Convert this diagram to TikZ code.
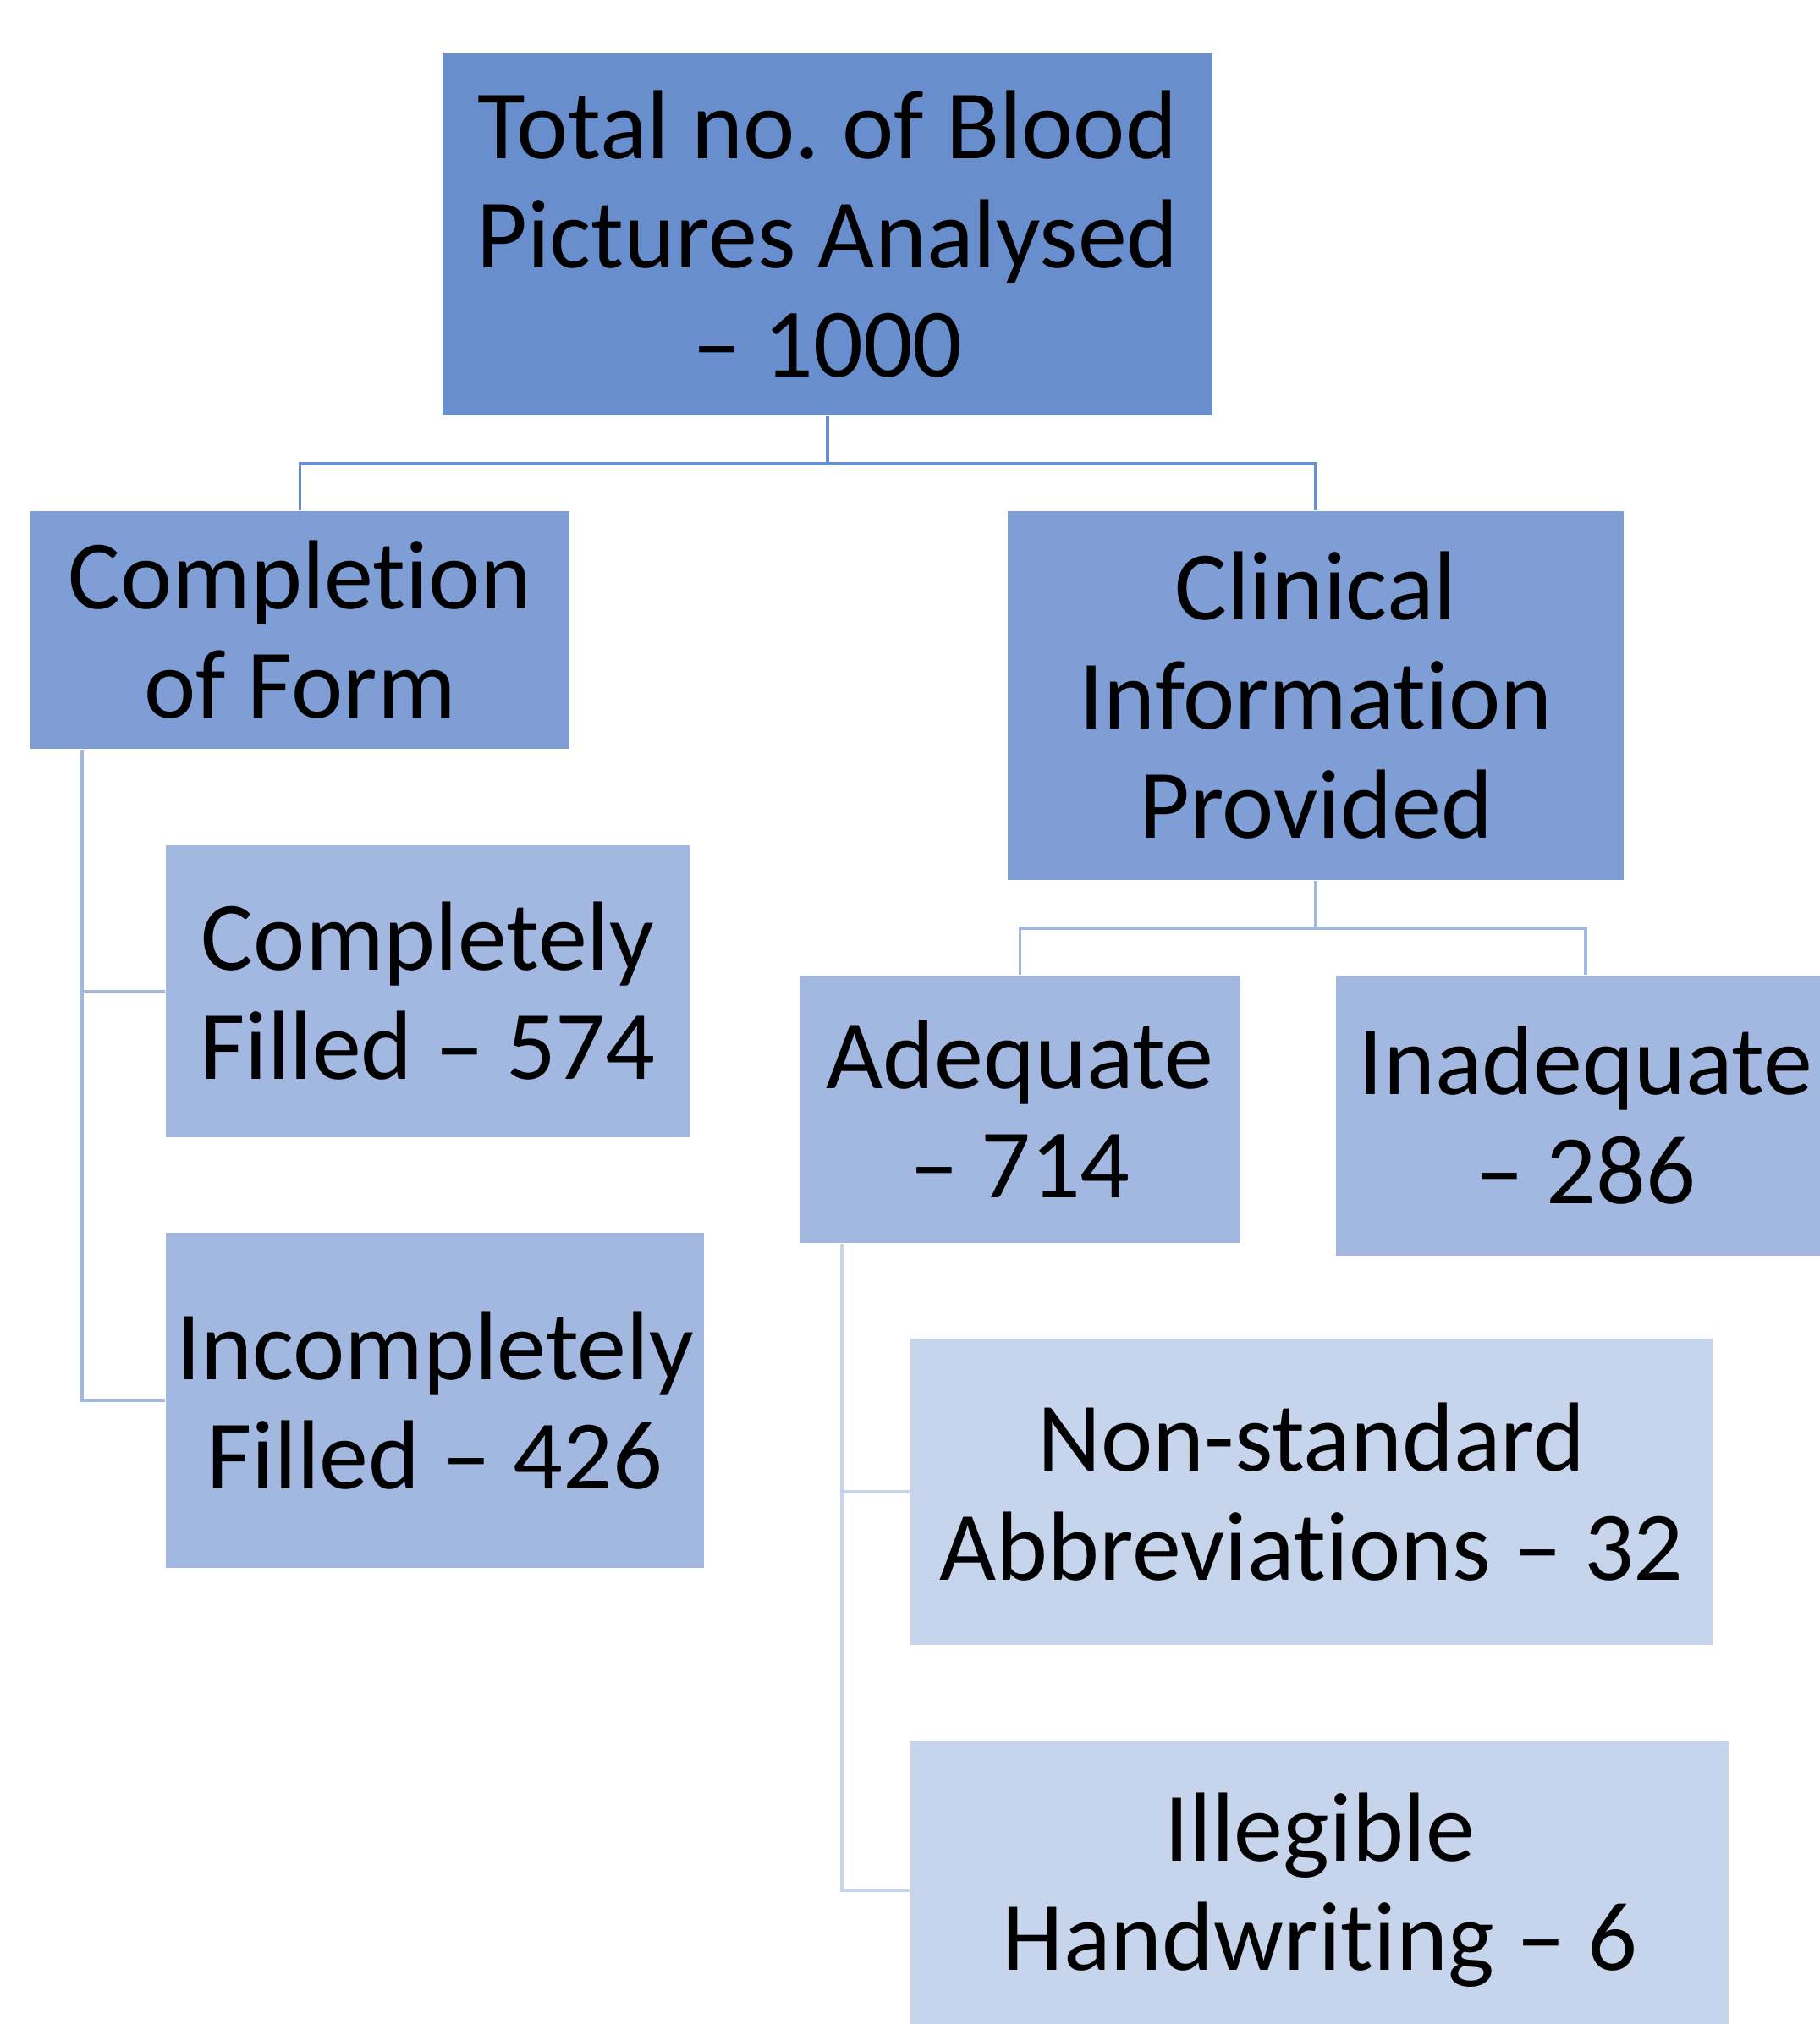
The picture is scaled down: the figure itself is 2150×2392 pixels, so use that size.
\documentclass[tikz,border=0pt]{standalone}
\usepackage{fontspec}
\setmainfont{Carlito}[RawFeature={-liga;-clig;-calt;-dlig;-rlig}]
\usetikzlibrary{calc}
\frenchspacing

\definecolor{boxone}{HTML}{698ECE}
\definecolor{boxtwo}{HTML}{7E9ED5}
\definecolor{boxthree}{HTML}{A2B8E0}
\definecolor{boxfour}{HTML}{C6D4EC}

\begin{document}
\begin{tikzpicture}[x=0.01cm,y=-0.01cm,
  box/.style={rectangle,inner sep=0pt,align=center,text=black,
    font=\fontsize{33}{36.7}\selectfont},
  link/.style={line width=1pt}]
\useasboundingbox (0,0) rectangle (2150,2392);
\node[box,fill=boxone,minimum width=9.10cm,minimum height=4.28cm] (total) at (978,277)
  {Total no. of Blood\\Pictures Analysed\\– 1000};
\node[box,fill=boxtwo,minimum width=6.37cm,minimum height=2.81cm] (form) at (354.5,744.5)
  {Completion\\of Form};
\node[box,fill=boxtwo,minimum width=7.28cm,minimum height=4.36cm] (clinical) at (1555,822)
  {Clinical\\Informat\kern0pt ion\\Provided};
\node[box,fill=boxthree,minimum width=6.19cm,minimum height=3.45cm] (complete) at (505.5,1171.5)
  {Completely\\Filled – 574};
\node[box,fill=boxthree,minimum width=6.36cm,minimum height=3.96cm] (incomplete) at (514,1655)
  {Incompletely\\Filled – 426};
\node[box,fill=boxthree,minimum width=5.21cm,minimum height=3.16cm] (adequate) at (1205.5,1311)
  {Adequate\\– 714};
\node[box,fill=boxthree,minimum width=5.90cm,minimum height=3.31cm] (inadequate) at (1874,1318.5)
  {Inadequate\\– 286};
\node[box,fill=boxfour,minimum width=9.48cm,minimum height=3.62cm] (abbrev) at (1550,1763)
  {Non-standard\\Abbreviat\kern0pt ions – 32};
\node[box,fill=boxfour,minimum width=9.68cm,minimum height=3.54cm] (illegible) at (1560,2234)
  {Illegible\\Handwrit\kern0pt ing – 6};
% top level
\path (total.south) ++(0,56) coordinate (busA);
\draw[link,draw=boxone] (total.south) -- (busA);
\draw[link,draw=boxone] (busA) -| (form.north);
\draw[link,draw=boxone] (busA) -| (clinical.north);
% completion of form
\path (form.south west) ++(62,0) coordinate (formstem);
\draw[link,draw=boxthree] (formstem) |- (complete.west);
\draw[link,draw=boxthree] (formstem) |- (incomplete.west);
% clinical information
\path (clinical.south) ++(0,56) coordinate (busB);
\draw[link,draw=boxthree] (clinical.south) -- (busB);
\draw[link,draw=boxthree] (busB) -| (adequate.north);
\draw[link,draw=boxthree] (busB) -| (inadequate.north);
% adequate
\path (adequate.south west) ++(51,0) coordinate (adqstem);
\draw[link,draw=boxfour] (adqstem) |- (abbrev.west);
\draw[link,draw=boxfour] (adqstem) |- (illegible.west);
\end{tikzpicture}
\end{document}
